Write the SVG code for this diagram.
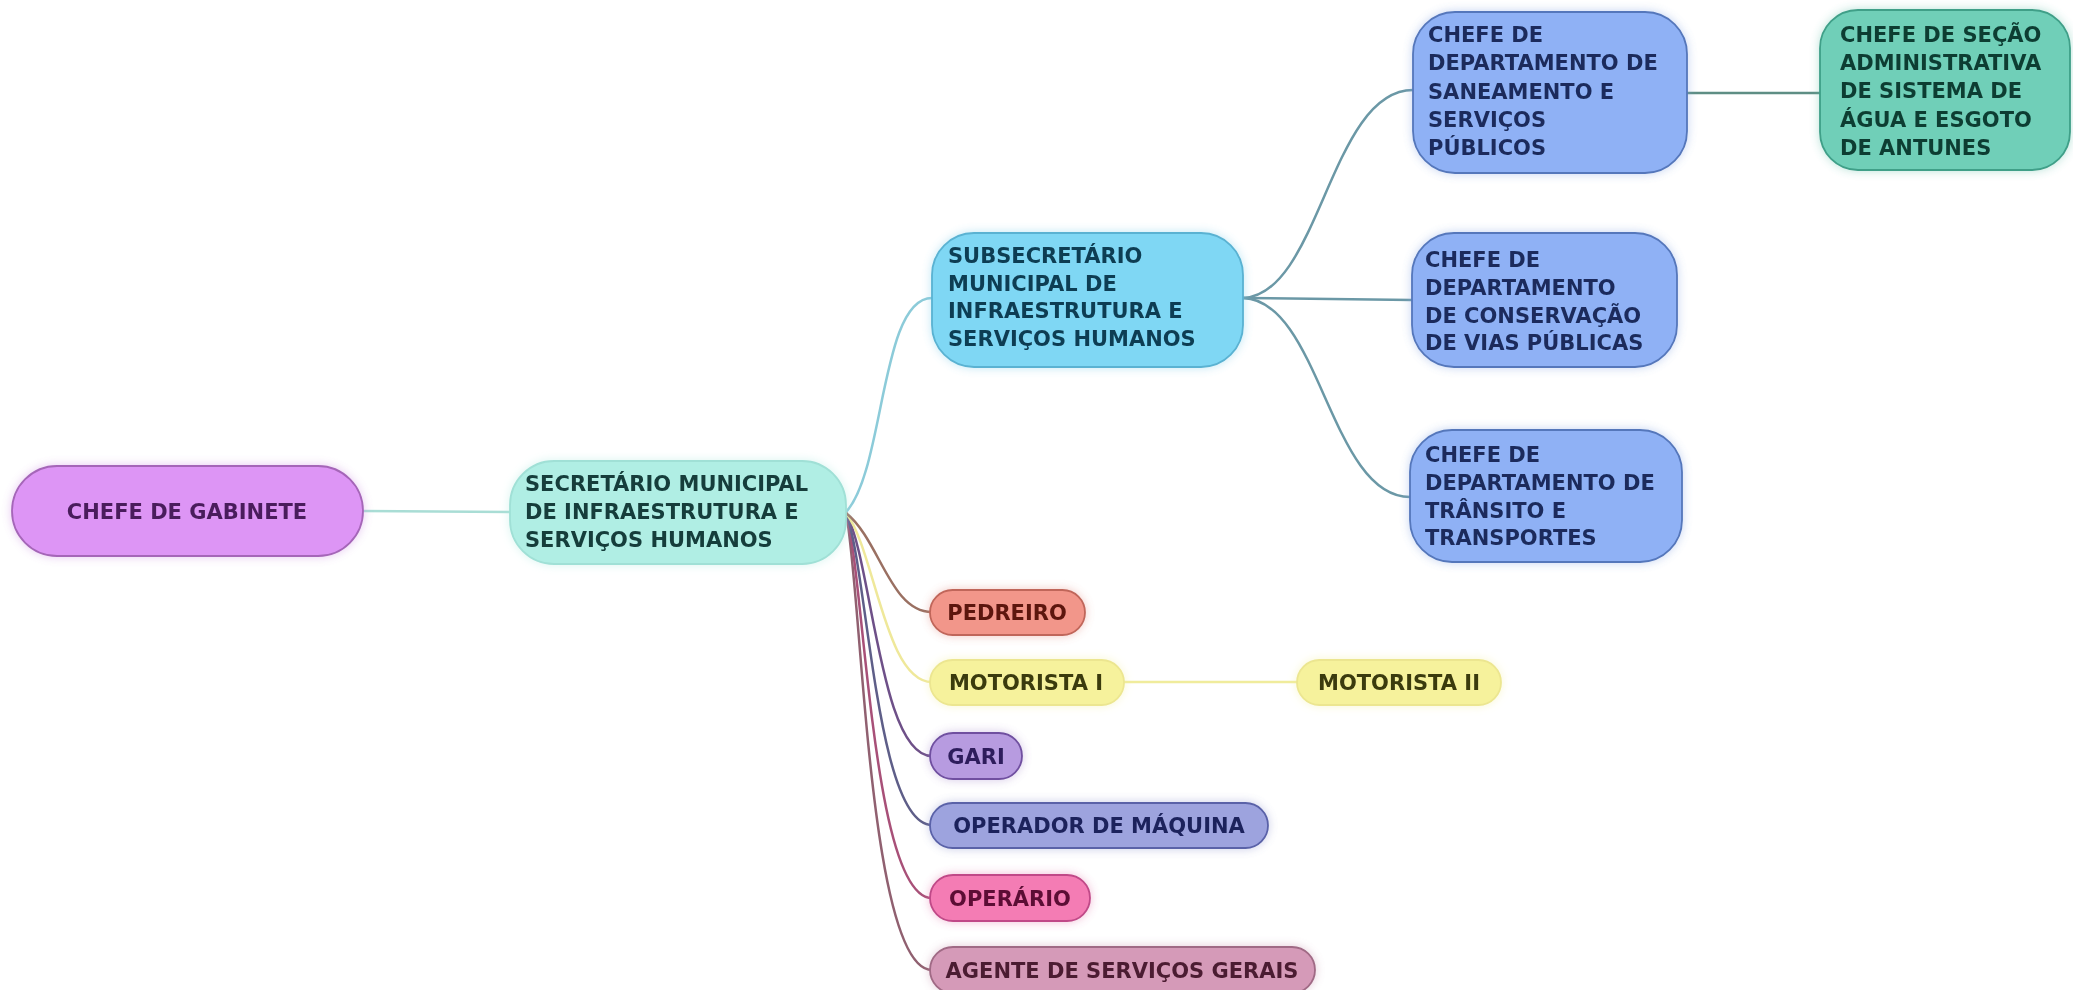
<svg xmlns="http://www.w3.org/2000/svg" width="2073" height="990" viewBox="0 0 2073 990">
<defs>
<style>
.t{font-family:"DejaVu Sans","Liberation Sans",sans-serif;font-weight:bold;font-size:21px}
.m{text-anchor:middle}
.c{fill:none;stroke-width:2.5;stroke-linecap:round}
.n{stroke-width:1.8}
</style>
<filter id="glow" x="-20%" y="-40%" width="140%" height="180%">
<feGaussianBlur in="SourceGraphic" stdDeviation="5" result="b"/>
<feComponentTransfer in="b" result="b2"><feFuncA type="linear" slope="0.45"/></feComponentTransfer>
<feMerge><feMergeNode in="b2"/><feMergeNode in="SourceGraphic"/></feMerge>
</filter>
</defs>
<rect width="2073" height="990" fill="#ffffff"/>
<g id="connectors">
<path class="c" stroke="#a9ddd5" d="M363 511 L511 512"/>
<path class="c" stroke="#8ccbd9" d="M846 512 C885 470 880 298 932 298"/>
<path class="c" stroke="#6b98a6" d="M1243 298 C1320 295 1330 90 1413 90"/>
<path class="c" stroke="#6b98a6" d="M1243 298 L1412 300"/>
<path class="c" stroke="#6b98a6" d="M1243 298 C1320 300 1330 497 1410 497"/>
<path class="c" stroke="#5e8e84" d="M1687 93 L1820 93"/>
<path class="c" stroke="#906070" d="M846 513 C862 590 868 970 932 970"/>
<path class="c" stroke="#a85078" d="M846 513 C865 580 872 898 932 898"/>
<path class="c" stroke="#5e5e88" d="M846 513 C868 570 876 825 932 825"/>
<path class="c" stroke="#6e5088" d="M846 513 C872 560 880 756 932 756"/>
<path class="c" stroke="#efe89a" d="M846 513 C875 550 885 682 932 682"/>
<path class="c" stroke="#9a7062" d="M846 513 C880 540 890 612 932 612"/>
<path class="c" stroke="#f0ec9c" stroke-width="3" d="M1124 682 L1297 682"/>
</g>
<g id="n-gabinete" filter="url(#glow)">
<rect class="n" x="12" y="466" width="351" height="90" rx="45" fill="#dd95f5" stroke="#a566b8"/>
<text class="t m" x="187" y="519" fill="#4a1f5c">CHEFE DE GABINETE</text>
</g>
<g id="n-secretario" filter="url(#glow)">
<rect class="n" x="510" y="461" width="336" height="103" rx="44" fill="#b0eee4" stroke="#a0e0d6"/>
<text class="t" fill="#123c3a"><tspan x="525" y="491">SECRETÁRIO MUNICIPAL</tspan><tspan x="525" y="519">DE INFRAESTRUTURA E</tspan><tspan x="525" y="547">SERVIÇOS HUMANOS</tspan></text>
</g>
<g id="n-subsecretario" filter="url(#glow)">
<rect class="n" x="932" y="233" width="311" height="134" rx="42" fill="#7fd7f4" stroke="#5ab2d2"/>
<text class="t" fill="#0f3d52"><tspan x="948" y="263">SUBSECRETÁRIO</tspan><tspan x="948" y="291">MUNICIPAL DE</tspan><tspan x="948" y="318">INFRAESTRUTURA E</tspan><tspan x="948" y="346">SERVIÇOS HUMANOS</tspan></text>
</g>
<g id="n-saneamento" filter="url(#glow)">
<rect class="n" x="1413" y="12" width="274" height="161" rx="42" fill="#8fb1f5" stroke="#5577bb"/>
<text class="t" fill="#1a2c5c"><tspan x="1428" y="42">CHEFE DE</tspan><tspan x="1428" y="70">DEPARTAMENTO DE</tspan><tspan x="1428" y="99">SANEAMENTO E</tspan><tspan x="1428" y="127">SERVIÇOS</tspan><tspan x="1428" y="155">PÚBLICOS</tspan></text>
</g>
<g id="n-secao" filter="url(#glow)">
<rect class="n" x="1820" y="10" width="250" height="160" rx="38" fill="#6fcfb8" stroke="#3f9f88"/>
<text class="t" fill="#0f3d33"><tspan x="1840" y="42">CHEFE DE SEÇÃO</tspan><tspan x="1840" y="70">ADMINISTRATIVA</tspan><tspan x="1840" y="98">DE SISTEMA DE</tspan><tspan x="1840" y="127">ÁGUA E ESGOTO</tspan><tspan x="1840" y="155">DE ANTUNES</tspan></text>
</g>
<g id="n-conservacao" filter="url(#glow)">
<rect class="n" x="1412" y="233" width="265" height="134" rx="42" fill="#8fb1f5" stroke="#5577bb"/>
<text class="t" fill="#1a2c5c"><tspan x="1425" y="267">CHEFE DE</tspan><tspan x="1425" y="295">DEPARTAMENTO</tspan><tspan x="1425" y="323">DE CONSERVAÇÃO</tspan><tspan x="1425" y="350">DE VIAS PÚBLICAS</tspan></text>
</g>
<g id="n-transito" filter="url(#glow)">
<rect class="n" x="1410" y="430" width="272" height="132" rx="42" fill="#8fb1f5" stroke="#5577bb"/>
<text class="t" fill="#1a2c5c"><tspan x="1425" y="462">CHEFE DE</tspan><tspan x="1425" y="490">DEPARTAMENTO DE</tspan><tspan x="1425" y="518">TRÂNSITO E</tspan><tspan x="1425" y="545">TRANSPORTES</tspan></text>
</g>
<g id="n-pedreiro" filter="url(#glow)">
<rect class="n" x="930" y="590" width="155" height="45" rx="22.5" fill="#f2968a" stroke="#c0665a"/>
<text class="t m" x="1007" y="620" fill="#5c1410">PEDREIRO</text>
</g>
<g id="n-motorista1" filter="url(#glow)">
<rect class="n" x="930" y="660" width="194" height="45" rx="22.5" fill="#f6f29c" stroke="#ece690"/>
<text class="t m" x="1026" y="690" fill="#3a3a10">MOTORISTA I</text>
</g>
<g id="n-motorista2" filter="url(#glow)">
<rect class="n" x="1297" y="660" width="204" height="45" rx="22.5" fill="#f6f29c" stroke="#ece690"/>
<text class="t m" x="1399" y="690" fill="#3a3a10">MOTORISTA II</text>
</g>
<g id="n-gari" filter="url(#glow)">
<rect class="n" x="930" y="733" width="92" height="46" rx="23" fill="#b79be0" stroke="#7050a0"/>
<text class="t m" x="976" y="764" fill="#2e1f5c">GARI</text>
</g>
<g id="n-operador" filter="url(#glow)">
<rect class="n" x="930" y="803" width="338" height="45" rx="22.5" fill="#9da3de" stroke="#5a62a8"/>
<text class="t m" x="1099" y="833" fill="#1c225c">OPERADOR DE MÁQUINA</text>
</g>
<g id="n-operario" filter="url(#glow)">
<rect class="n" x="930" y="875" width="160" height="46" rx="23" fill="#f47cb4" stroke="#c04a88"/>
<text class="t m" x="1010" y="906" fill="#5c0f34">OPERÁRIO</text>
</g>
<g id="n-agente" filter="url(#glow)">
<rect class="n" x="930" y="947" width="385" height="46" rx="23" fill="#d59ab8" stroke="#a06a85"/>
<text class="t m" x="1122" y="978" fill="#4c1c30">AGENTE DE SERVIÇOS GERAIS</text>
</g>
</svg>
